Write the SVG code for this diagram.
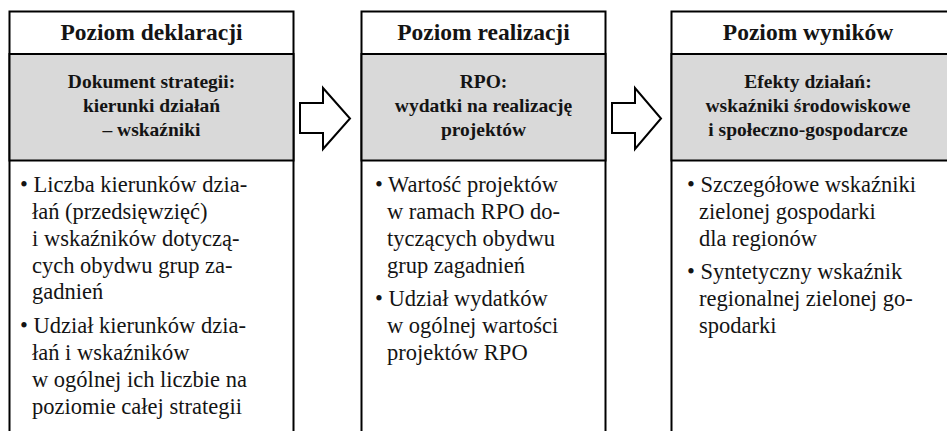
<svg xmlns="http://www.w3.org/2000/svg" width="947" height="431" viewBox="0 0 947 431">
  <style>
    .frame { fill: #ffffff; stroke: #000000; stroke-width: 2; }
    .band { fill: #d9d9d9; stroke: #000000; stroke-width: 2; }
    text { font-family: 'Liberation Serif', 'DejaVu Serif', serif; fill: #141414; }
    .head { font-weight: bold; font-size: 23.5px; text-anchor: middle; }
    .sub { font-weight: bold; font-size: 19.5px; text-anchor: middle; }
    .body { font-size: 22.5px; }
    .arrow { fill: #ffffff; stroke: #000000; stroke-width: 2; stroke-linejoin: miter; }
  </style>

  <rect width="947" height="431" fill="#ffffff"/>

  <!-- Level 1: declarations -->
  <g id="poziom-deklaracji">
    <rect class="frame" x="9.5" y="11.5" width="284" height="440"/>
    <rect class="band" x="9.5" y="54" width="284" height="106.5"/>
    <text class="head" x="151.5" y="40">Poziom deklaracji</text>
    <text class="sub" x="151.5" y="88">Dokument strategii:</text>
    <text class="sub" x="151.5" y="112">kierunki działań</text>
    <text class="sub" x="151.5" y="136">– wskaźniki</text>
    <text class="body" x="20" y="192">• Liczba kierunków dzia-</text>
    <text class="body" x="32" y="219">łań (przedsięwzięć)</text>
    <text class="body" x="32" y="246">i wskaźników dotyczą-</text>
    <text class="body" x="32" y="273">cych obydwu grup za-</text>
    <text class="body" x="32" y="299">gadnień</text>
    <text class="body" x="20" y="333">• Udział kierunków dzia-</text>
    <text class="body" x="32" y="360">łań i wskaźników</text>
    <text class="body" x="32" y="387">w ogólnej ich liczbie na</text>
    <text class="body" x="32" y="414">poziomie całej strategii</text>
  </g>

  <!-- Level 2: implementation -->
  <g id="poziom-realizacji">
    <rect class="frame" x="361.5" y="11.5" width="244" height="440"/>
    <rect class="band" x="361.5" y="54" width="244" height="106.5"/>
    <text class="head" x="483.5" y="40">Poziom realizacji</text>
    <text class="sub" x="483.5" y="88">RPO:</text>
    <text class="sub" x="483.5" y="112">wydatki na realizację</text>
    <text class="sub" x="483.5" y="136">projektów</text>
    <text class="body" x="375" y="192">• Wartość projektów</text>
    <text class="body" x="387" y="219">w ramach RPO do-</text>
    <text class="body" x="387" y="246">tyczących obydwu</text>
    <text class="body" x="387" y="273">grup zagadnień</text>
    <text class="body" x="375" y="306">• Udział wydatków</text>
    <text class="body" x="387" y="333">w ogólnej wartości</text>
    <text class="body" x="387" y="360">projektów RPO</text>
  </g>

  <!-- Level 3: results (frame runs past the right edge) -->
  <g id="poziom-wynikow">
    <rect class="frame" x="671.5" y="11.5" width="290" height="440"/>
    <rect class="band" x="671.5" y="54" width="290" height="106.5"/>
    <text class="head" x="808" y="40">Poziom wyników</text>
    <text class="sub" x="808" y="88">Efekty działań:</text>
    <text class="sub" x="808" y="112">wskaźniki środowiskowe</text>
    <text class="sub" x="808" y="136">i społeczno-gospodarcze</text>
    <text class="body" x="687" y="192">• Szczegółowe wskaźniki</text>
    <text class="body" x="699" y="219">zielonej gospodarki</text>
    <text class="body" x="699" y="246">dla regionów</text>
    <text class="body" x="687" y="279">• Syntetyczny wskaźnik</text>
    <text class="body" x="699" y="306">regionalnej zielonej go-</text>
    <text class="body" x="699" y="333">spodarki</text>
  </g>

  <!-- Block arrows between levels -->
  <g id="connectors">
    <polygon class="arrow" points="300,103 323,103 323,88 350,118.5 323,149 323,133 300,133"/>
    <polygon class="arrow" points="612,103 635,103 635,88 661,118.5 635,149 635,133 612,133"/>
  </g>
</svg>
